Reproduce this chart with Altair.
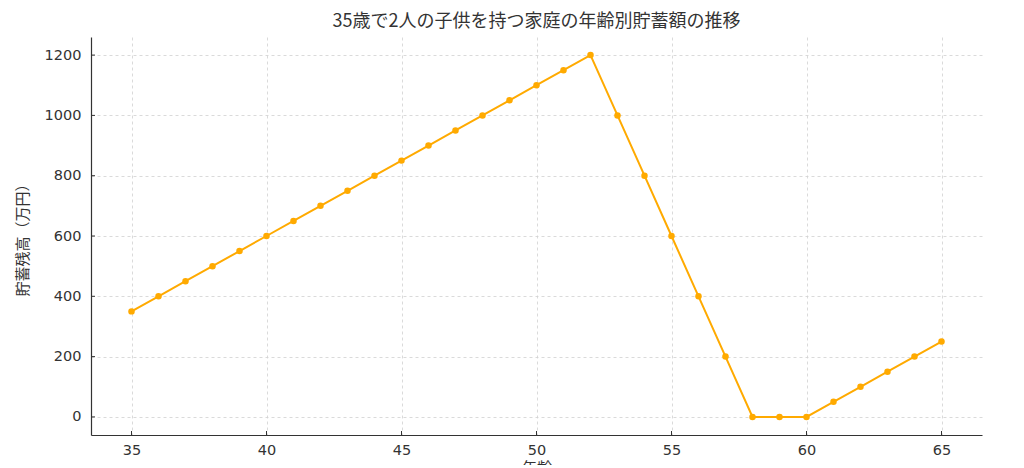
import altair as alt
import pandas as pd

ages = list(range(35, 66))
savings = [350, 400, 450, 500, 550, 600, 650, 700, 750, 800, 850, 900, 950, 1000,
           1050, 1100, 1150, 1200, 1000, 800, 600, 400, 200, 0, 0, 0, 50, 100, 150, 200, 250]
x_ticks = [35, 40, 45, 50, 55, 60, 65]
y_ticks = [0, 200, 400, 600, 800, 1000, 1200]

title = "35歳で2人の子供を持つ家庭の年齢別貯蓄額の推移"
x_title = "年齢"
y_title = "貯蓄残高（万円）"

W, H = 891, 398
FONT = "DejaVu Sans"

df = pd.DataFrame({"age": ages, "savings": savings})
xt = pd.DataFrame({"v": x_ticks})
yt = pd.DataFrame({"v": y_ticks})

xs = alt.Scale(domain=[33.5, 66.5], nice=False, zero=False)
ys = alt.Scale(domain=[-60, 1260], nice=False, zero=False)

common = dict(grid=True, gridDash=[3, 3], gridColor="#d0d0d0", gridWidth=0.8, ticks=False,
              labelFontSize=14.5, labelColor="#333333", titleFontSize=15, titleFontWeight="normal",
              titleColor="#333333", domainColor="#333333", domainWidth=1.2, labelFont=FONT,
              titleFont="Noto Sans CJK JP")
x_axis = alt.Axis(values=x_ticks, title=x_title, labelPadding=8, titlePadding=4, format="d", **common)
y_axis = alt.Axis(values=y_ticks, title=y_title, labelPadding=10, titlePadding=14, format="d", **common)

base = alt.Chart(df)
line = base.mark_line(color="#FFAA00", strokeWidth=2).encode(
    x=alt.X("age:Q", scale=xs, axis=x_axis),
    y=alt.Y("savings:Q", scale=ys, axis=y_axis),
)
pts = base.mark_circle(color="#FFAA00", size=42, opacity=1).encode(
    x=alt.X("age:Q", scale=xs),
    y=alt.Y("savings:Q", scale=ys),
)
xticks = alt.Chart(xt).mark_rule(color="#333333", strokeWidth=1).encode(
    x=alt.X("v:Q", scale=xs), y=alt.value(H), y2=alt.value(H - 4))
yticks = alt.Chart(yt).mark_rule(color="#333333", strokeWidth=1).encode(
    y=alt.Y("v:Q", scale=ys), x=alt.value(0), x2=alt.value(4))

chart = alt.layer(line, pts, xticks, yticks).properties(
    width=W, height=H,
    title=alt.Title(title, fontSize=18, fontWeight="normal", color="#333333",
                    font="Noto Sans CJK JP", anchor="middle", offset=6),
    autosize=alt.AutoSizeParams(type="none"),
    padding={"left": 83, "top": 29, "right": 30, "bottom": 30},
).configure_view(stroke=None)

chart.save("out.html", embed_options={"renderer": "svg", "actions": False})
